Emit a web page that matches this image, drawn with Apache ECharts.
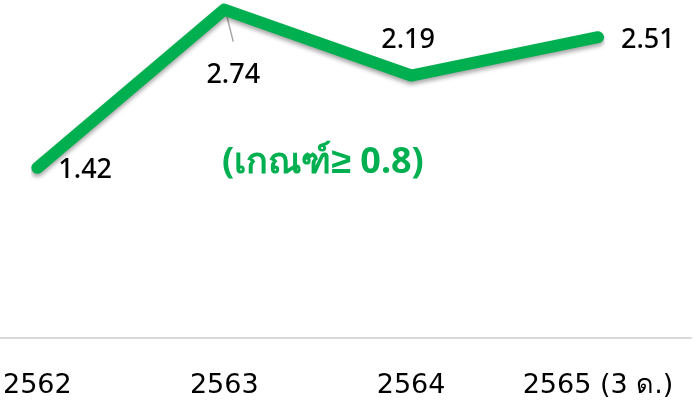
<!DOCTYPE html>
<html>
<head>
<meta charset="utf-8">
<script src="https://cdn.jsdelivr.net/npm/echarts@6/dist/echarts.min.js"></script>
<style>html,body{margin:0;padding:0;background:#fff}#c{width:697px;height:404px}</style>
</head>
<body>
<div id="c"></div>
<script>
const categories = ['2562', '2563', '2564', '2565 (3 ด.)'];
const values = [1.42, 2.74, 2.19, 2.51];
const criterionText = '(เกณฑ์≥ 0.8)';

const labelConf = [
  { position: 'right', distance: 20, offset: [0, 3] },
  { position: 'bottom', distance: 51, offset: [9, 0] },
  { position: 'top', distance: 21, offset: [-3, 0] },
  { position: 'right', distance: 22, offset: [0, 3] }
];

const chart = echarts.init(document.getElementById('c'));
const critText = {
  type: 'text', left: 222, top: 145,
  style: { text: criterionText, fill: '#00b050', font: 'bold 36px "Noto Sans", sans-serif' }
};
chart.setOption({
  animation: false,
  grid: [
    { left: 33, right: 99, top: 0, bottom: 66 },
    { left: 0, right: 6, top: 0, bottom: 66 }
  ],
  xAxis: [{
    type: 'category',
    gridIndex: 0,
    data: categories,
    boundaryGap: false,
    axisLine: { show: false },
    axisTick: { show: false },
    axisLabel: { color: '#000', fontSize: 27, fontFamily: 'DejaVu Sans', margin: 34, interval: 0 }
  }, {
    type: 'value', gridIndex: 1, min: 0, max: 1,
    axisLine: { show: true, lineStyle: { color: '#d9d9d9', width: 2 } },
    axisTick: { show: false }, axisLabel: { show: false }, splitLine: { show: false }
  }],
  yAxis: [
    { type: 'value', gridIndex: 0, min: 0, max: 2.82, show: false, splitLine: { show: false } },
    { type: 'value', gridIndex: 1, min: 0, max: 1, show: false, splitLine: { show: false } }
  ],
  graphic: [critText],
  series: [{
    type: 'line',
    xAxisIndex: 0, yAxisIndex: 0,
    data: values.map((v, i) => ({ value: v, label: labelConf[i] })),
    symbol: 'circle',
    symbolSize: 2,
    showSymbol: true,
    itemStyle: { color: '#00b050' },
    lineStyle: { color: '#00b050', width: 12, cap: 'round', join: 'round',
      shadowColor: 'rgba(0,0,0,0.35)', shadowBlur: 4, shadowOffsetY: 3 },
    label: { show: true, color: '#000', fontSize: 27, fontWeight: 500, fontFamily: '"Noto Sans", sans-serif', formatter: p => p.value.toFixed(2) }
  }]
});
// leader line for the 2563 label, anchored at the data point's pixel position
const p = chart.convertToPixel({ xAxisIndex: 0, yAxisIndex: 0 }, [1, values[1]]);
chart.setOption({
  graphic: [critText, {
    type: 'line', z: 1,
    shape: { x1: p[0] + 2, y1: p[1] + 4, x2: p[0] + 9, y2: p[1] + 32 },
    style: { stroke: '#a6a6a6', lineWidth: 1.5 }
  }]
});
</script>
</body>
</html>
